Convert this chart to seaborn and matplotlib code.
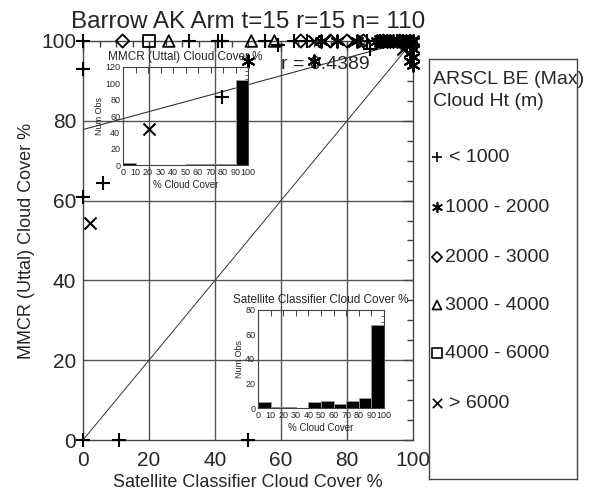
import numpy as np
import pandas as pd
import matplotlib
matplotlib.use('Agg')
import matplotlib.pyplot as plt
from matplotlib.ticker import MultipleLocator
import seaborn as sns

# scatter points by ARSCL cloud height class (satellite %, MMCR %)
lt1000_x = [0, 32, 41, 42, 55, 59, 64, 68, 86, 87, 0, 42, 6, 0, 0, 11, 50, 90, 92, 95, 97, 99]
lt1000_y = [100, 100, 100, 100, 100, 99, 100, 100, 100, 98, 93, 86, 64.5, 61, 0, 0, 0, 100, 100, 100, 100, 100]
h1000_x = [72, 77, 83, 50, 70, 89, 90, 91, 92, 93, 94, 95, 96, 97, 98, 99, 100, 99, 100, 99, 100, 98, 100, 99.5]
h1000_y = [100, 100, 100, 95, 95, 100, 100, 100, 100, 100, 100, 100, 100, 100, 100, 100, 100, 97, 96, 95, 98, 99, 94, 99]
h2000_x = [12, 66, 75, 80, 85, 91, 96]
h2000_y = [100, 100, 100, 100, 100, 100, 100]
h3000_x = [26, 51, 58, 93]
h3000_y = [100, 100, 100, 100]
h4000_x = [20]
h4000_y = [100]
gt6000_x = [70, 73, 82, 20, 2, 97, 90, 94, 98, 100]
gt6000_y = [100, 100, 100, 78, 54.5, 98, 100, 100, 100, 100]

classes = ['< 1000', '1000 - 2000', '2000 - 3000', '3000 - 4000', '4000 - 6000', '> 6000']

# linear fit
fit_intercept = 77.8
fit_slope = 0.225

# inset histograms (counts per 10% bin)
bin_edges = [0, 10, 20, 30, 40, 50, 60, 70, 80, 90, 100]
bin_labels = ['0', '10', '20', '30', '40', '50', '60', '70', '80', '90', '100']
mmcr_counts = [2, 0, 0, 0, 0, 1, 1, 1, 1, 104]
sat_counts = [5, 1, 1, 0, 5, 6, 3, 6, 8, 68]

sns.set_theme(style='white')
plt.rcParams['font.family'] = ['Liberation Sans', 'DejaVu Sans']
plt.rcParams['xtick.direction'] = 'in'
plt.rcParams['ytick.direction'] = 'in'

W, H = 590, 492
fig = plt.figure(figsize=(5.9, 4.92), dpi=100)

def box(l, t, r, b):
    return [l / W, 1 - b / H, (r - l) / W, (b - t) / H]

ax = fig.add_axes(box(83, 41, 413, 440))
ax.set_xlim(0, 100)
ax.set_ylim(0, 100)
for v in [20, 40, 60, 80]:
    ax.axvline(v, color='#555555', lw=1, zorder=0)
    ax.axhline(v, color='#555555', lw=1, zorder=0)
ax.set_xticks([0, 20, 40, 60, 80, 100])
ax.set_yticks([0, 20, 40, 60, 80, 100])
ax.xaxis.set_minor_locator(MultipleLocator(5))
ax.yaxis.set_minor_locator(MultipleLocator(5))
ax.tick_params(which='both', top=True, right=True, color='#444444')
ax.tick_params(which='major', length=7, width=1, labelsize=15)
ax.tick_params(axis='x', which='major', pad=8)
ax.tick_params(axis='y', which='major', pad=5)
ax.tick_params(which='minor', length=4, width=1)
for s in ax.spines.values():
    s.set_color('#444444')
    s.set_linewidth(1)

# 1:1 line and fit line
ax.plot([0, 100], [0, 100], color='#333333', lw=0.7)
fx = np.array([0, 100])
ax.plot(fx, fit_intercept + fit_slope * fx, color='#333333', lw=0.8)

star6 = (6, 2, 0)
groups = [
    (lt1000_x, lt1000_y, '+', 90, False),
    (h1000_x, h1000_y, star6, 80, False),
    (h2000_x, h2000_y, 'D', 45, True),
    (h3000_x, h3000_y, '^', 70, True),
    (h4000_x, h4000_y, 's', 70, True),
    (gt6000_x, gt6000_y, 'x', 75, False),
]
for (gx, gy, m, s, hollow), name in zip(groups, classes):
    df = pd.DataFrame({'sat': gx, 'mmcr': gy})
    if hollow:
        sns.scatterplot(data=df, x='sat', y='mmcr', marker=m, s=s, ax=ax,
                        facecolor='none', edgecolor='black', linewidth=1.3,
                        clip_on=False, zorder=5, legend=False)
    else:
        sns.scatterplot(data=df, x='sat', y='mmcr', marker=m, s=s, ax=ax,
                        color='black', linewidth=1.5, clip_on=False,
                        zorder=5, legend=False)

ax.text(60, 94.0, 'r = 0.4389', fontsize=14, va='center', ha='left', zorder=4)
ax.set_title('Barrow AK Arm t=15 r=15 n= 110', fontsize=17.5, pad=9)
ax.set_xlabel('Satellite Classifier Cloud Cover %', fontsize=13, labelpad=3)
ax.set_ylabel('MMCR (Uttal) Cloud Cover %', fontsize=13, labelpad=4)


def inset(rect, counts, title, ymax, ystep):
    a = fig.add_axes(rect)
    mids = [(bin_edges[i] + bin_edges[i + 1]) / 2 for i in range(len(counts))]
    sns.histplot(x=mids, weights=counts, bins=bin_edges, ax=a, color='black',
                 edgecolor='#999999', linewidth=0.6, alpha=1)
    a.set_xlim(0, 100)
    a.set_ylim(0, ymax)
    a.set_xticks(bin_edges)
    a.set_xticklabels(bin_labels)
    a.set_yticks(np.arange(0, ymax + 1, ystep))
    a.yaxis.set_minor_locator(MultipleLocator(ystep / 4))
    a.tick_params(which='both', top=True, right=True, color='#444444')
    a.tick_params(which='major', length=4, width=0.7, labelsize=6.5, pad=2)
    a.tick_params(which='minor', length=2, width=0.6)
    for s in a.spines.values():
        s.set_color('#444444')
        s.set_linewidth(0.8)
    a.set_title(title, fontsize=8.5, pad=5)
    a.set_xlabel('% Cloud Cover', fontsize=7, labelpad=2)
    a.set_ylabel('Num Obs', fontsize=6.5, labelpad=1)
    a.patch.set_alpha(0)
    return a

inset(box(123, 67, 248, 165), mmcr_counts, 'MMCR (Uttal) Cloud Cover %', 120, 20)
inset(box(258, 310, 384, 408), sat_counts, 'Satellite Classifier Cloud Cover %', 80, 20)

# legend panel
lg = fig.add_axes(box(429, 59, 577, 479))
lg.set_xlim(0, 148)
lg.set_ylim(420, 0)
lg.set_xticks([])
lg.set_yticks([])
for s in lg.spines.values():
    s.set_color('#444444')
    s.set_linewidth(1)
lg.text(4, 20, 'ARSCL BE (Max)', fontsize=14, va='center', clip_on=False)
lg.text(4, 42, 'Cloud Ht (m)', fontsize=14, va='center')
ys = [98, 148, 198, 246, 294, 344]
for (gx, gy, m, s, hollow), name, yy in zip(groups, classes, ys):
    lg.scatter([8], [yy], marker=m, s=s * 0.6, facecolor='none' if hollow else 'black',
               edgecolor='black', linewidth=1.2)
    lg.text(16 if name[0] not in '<>' else 20, yy, name, fontsize=14, va='center')

fig.savefig('out.png', dpi=100)
